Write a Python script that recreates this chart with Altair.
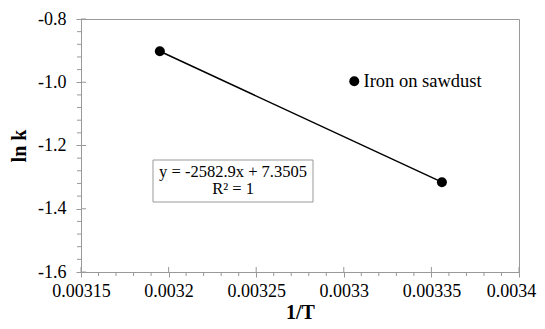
import altair as alt
import pandas as pd

# Data
inv_T = [0.003195, 0.003356]
ln_k = [-0.902, -1.316]
series = ["Iron on sawdust", "Iron on sawdust"]

x_major = [0.00315, 0.0032, 0.00325, 0.0033, 0.00335, 0.0034]
x_minor = [0.00316, 0.00317, 0.00318, 0.00319,
           0.00321, 0.00322, 0.00323, 0.00324,
           0.00326, 0.00327, 0.00328, 0.00329,
           0.00331, 0.00332, 0.00333, 0.00334,
           0.00336, 0.00337, 0.00338, 0.00339]
y_major = [-1.6, -1.4, -1.2, -1.0, -0.8]
y_minor = [-1.56, -1.52, -1.48, -1.44,
           -1.36, -1.32, -1.28, -1.24,
           -1.16, -1.12, -1.08, -1.04,
           -0.96, -0.92, -0.88, -0.84]

slope = -2582.9
intercept = 7.3505
r2 = 1

eq_line1 = "y = %.1fx + %.4f" % (slope, intercept)
eq_line2 = "R² = %d" % r2

df = pd.DataFrame({"x": inv_T, "y": ln_k, "s": series})
df_xmaj = pd.DataFrame({"x": x_major})
df_xmin = pd.DataFrame({"x": x_minor})
df_ymaj = pd.DataFrame({"y": y_major})
df_ymin = pd.DataFrame({"y": y_minor})
df_eq1 = pd.DataFrame({"t": [eq_line1]})
df_eq2 = pd.DataFrame({"t": [eq_line2]})

FONT = "Liberation Serif"
GRAY = "#999999"
W, H = 438, 253

xscale = alt.Scale(domain=[0.00315, 0.0034], nice=False, zero=False)
yscale = alt.Scale(domain=[-1.6, -0.8], nice=False, zero=False)

xaxis = alt.Axis(values=x_major, format="~g", title="1/T", grid=False,
                 tickSize=5, labelPadding=5, titlePadding=2,
                 labelFlush=False, labelOverlap=False,
                 labelOffset={"condition": {"test": "datum.value > 0.003399", "value": -8}, "value": 0},
                 domainColor=GRAY, tickColor=GRAY)
yaxis = alt.Axis(values=y_major, title="ln k", grid=False,
                 labelExpr="(datum.value < 0 ? '-' : '') + format(abs(datum.value), '.1f')",
                 tickSize=5, labelPadding=10, titlePadding=8,
                 labelFlush=False, labelOverlap=False,
                 domainColor=GRAY, tickColor=GRAY)

X = alt.X("x:Q", scale=xscale, axis=xaxis)
Y = alt.Y("y:Q", scale=yscale, axis=yaxis)

base = alt.Chart(df)

line = base.mark_line(color="black", strokeWidth=1.5).encode(x=X, y=Y)

points = base.mark_point(filled=True, size=100, opacity=1, shape="circle").encode(
    x=X, y=Y,
    color=alt.Color("s:N", scale=alt.Scale(domain=["Iron on sawdust"], range=["black"]),
                    legend=alt.Legend(title=None, orient="none", legendX=264, legendY=53,
                                      labelFont=FONT, labelFontSize=18.5, labelColor="black",
                                      symbolSize=100, labelOffset=0, padding=0,
                                      symbolStrokeWidth=0)),
)

xmin_rules = alt.Chart(df_xmin).mark_rule(color=GRAY, strokeWidth=1).encode(
    x=X, y=alt.value(H), y2=alt.value(H + 4))
xmaj_rules = alt.Chart(df_xmaj).mark_rule(color=GRAY, strokeWidth=1).encode(
    x=X, y=alt.value(H - 5), y2=alt.value(H))
ymin_rules = alt.Chart(df_ymin).mark_rule(color=GRAY, strokeWidth=1).encode(
    y=Y, x=alt.value(-4), x2=alt.value(0))
ymaj_rules = alt.Chart(df_ymaj).mark_rule(color=GRAY, strokeWidth=1).encode(
    y=Y, x=alt.value(0), x2=alt.value(5))

box = alt.Chart(df_eq1).mark_rect(
    fill="white", stroke=GRAY, strokeWidth=1).encode(
    x=alt.value(72), x2=alt.value(232), y=alt.value(141), y2=alt.value(183))

eq_text1 = alt.Chart(df_eq1).mark_text(font=FONT, fontSize=16.5, color="black",
                                       align="center", baseline="middle").encode(
    x=alt.value(152), y=alt.value(153), text="t:N")
eq_text2 = alt.Chart(df_eq2).mark_text(font=FONT, fontSize=16.5, color="black",
                                       align="center", baseline="middle").encode(
    x=alt.value(152), y=alt.value(170), text="t:N")

chart = alt.layer(line, points, xmin_rules, xmaj_rules, ymin_rules, ymaj_rules,
                  box, eq_text1, eq_text2).properties(
    width=W, height=H,
    background="white",
    autosize=alt.AutoSizeParams(type="none"),
    padding={"left": 73, "top": 11, "right": 18, "bottom": 49},
).configure_view(
    stroke=GRAY, strokeWidth=1
).configure_axis(
    labelFont=FONT, labelFontSize=18, labelColor="black",
    titleFont=FONT, titleFontSize=20, titleFontWeight="bold", titleColor="black",
    domainWidth=1, tickWidth=1,
)

chart.save("out.html", embed_options={"renderer": "svg", "actions": False})
